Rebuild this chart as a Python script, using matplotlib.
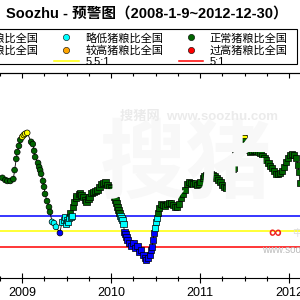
import matplotlib
matplotlib.use('Agg')
import matplotlib.pyplot as plt
from matplotlib.lines import Line2D
from matplotlib.patches import Rectangle
import numpy as np

plt.rcParams['font.family'] = ['Liberation Sans', 'Noto Sans CJK SC', 'DejaVu Sans']

# weekly values (circles), decimal year / pig-grain ratio
week_x = [2008.777, 2008.810, 2008.833, 2008.866, 2008.900, 2008.914, 2008.933, 2008.944,
          2008.963, 2008.978, 2009.000, 2009.017, 2009.033, 2009.056, 2009.100, 2009.119,
          2009.134, 2009.145, 2009.178, 2009.190, 2009.201, 2009.212, 2009.234, 2009.245,
          2009.256, 2009.279, 2009.301, 2009.312, 2009.335, 2009.357, 2009.379, 2009.424]
week_y = [7.22, 7.15, 7.12, 7.12, 7.18, 7.47, 7.83, 8.05,
          8.25, 8.44, 8.54, 8.60, 8.64, 8.67, 8.38, 8.31,
          8.09, 7.89, 7.70, 7.57, 7.47, 7.35, 7.12, 6.93,
          6.70, 6.47, 6.28, 6.12, 5.80, 5.76, 5.64, 5.44]

# daily values (squares)
day_x = [2009.446, 2009.468, 2009.480, 2009.491, 2009.502, 2009.513, 2009.524, 2009.535,
         2009.546, 2009.558, 2009.569, 2009.580, 2009.602, 2009.613, 2009.636, 2009.647,
         2009.669, 2009.691, 2009.714, 2009.725, 2009.747, 2009.758, 2009.781, 2009.803,
         2009.825, 2009.848, 2009.870, 2009.892, 2009.914, 2009.937, 2009.959, 2009.981,
         2010.004, 2010.015, 2010.026, 2010.037, 2010.048, 2010.059, 2010.071, 2010.082,
         2010.093, 2010.104, 2010.115, 2010.126, 2010.138, 2010.149, 2010.160, 2010.171,
         2010.182, 2010.204, 2010.227, 2010.249, 2010.271, 2010.294, 2010.316, 2010.338,
         2010.361, 2010.383, 2010.394, 2010.416, 2010.439, 2010.450, 2010.461, 2010.472,
         2010.483, 2010.494, 2010.506, 2010.517, 2010.528, 2010.539, 2010.561, 2010.584,
         2010.606, 2010.628, 2010.651, 2010.673, 2010.695, 2010.717, 2010.740, 2010.762,
         2010.784, 2010.807, 2010.829, 2010.851, 2010.874, 2010.896, 2010.918, 2010.940,
         2010.963, 2010.985, 2011.007, 2011.030, 2011.052, 2011.074, 2011.097, 2011.119,
         2011.141, 2011.164, 2011.186, 2011.208, 2011.230, 2011.253, 2011.275, 2011.297,
         2011.320, 2011.342, 2011.364, 2011.375, 2011.386, 2011.398, 2011.409, 2011.420,
         2011.431, 2011.442, 2011.453, 2011.465, 2011.476, 2011.487, 2011.498, 2011.509,
         2011.520, 2011.543, 2011.565, 2011.587, 2011.610, 2011.632, 2011.654, 2011.676,
         2011.699, 2011.721, 2011.743, 2011.766, 2011.788, 2011.810, 2011.833, 2011.855,
         2011.877, 2011.900, 2011.922, 2011.944, 2011.966, 2011.989, 2012.011, 2012.033,
         2012.056, 2012.078, 2012.100, 2012.111, 2012.123]
day_y = [5.80, 5.86, 5.96, 5.73, 5.86, 5.80, 5.93, 6.09,
         5.96, 5.99, 6.28, 6.44, 6.57, 6.64, 6.70, 6.73,
         6.67, 6.60, 6.51, 6.44, 6.54, 6.60, 6.73, 6.76,
         6.80, 6.83, 6.93, 7.02, 7.05, 7.09, 6.99, 6.93,
         6.89, 6.83, 6.76, 6.60, 6.51, 6.41, 6.28, 6.18,
         6.09, 5.99, 5.93, 5.86, 5.73, 5.48, 5.41, 5.31,
         5.22, 5.12, 5.02, 5.12, 4.96, 5.02, 4.83, 4.89,
         4.73, 4.64, 4.57, 4.64, 4.73, 4.89, 4.99, 5.22,
         5.44, 5.60, 5.80, 5.93, 6.09, 6.25, 6.38, 6.35,
         6.31, 6.38, 6.41, 6.41, 6.35, 6.28, 6.28, 6.38,
         6.57, 6.70, 6.83, 7.02, 7.09, 7.05, 7.02, 7.05,
         6.99, 7.02, 7.09, 7.22, 7.28, 7.31, 7.35, 7.35,
         7.31, 7.28, 7.22, 7.15, 7.09, 6.99, 6.93, 6.89,
         6.96, 7.09, 7.31, 7.54, 7.80, 7.96, 8.12, 8.28,
         8.44, 8.57, 8.67, 8.73, 8.60, 8.51, 8.41, 8.31,
         8.22, 8.12, 8.05, 8.09, 8.12, 8.09, 8.05, 8.02,
         7.93, 7.86, 7.80, 7.70, 7.60, 7.54, 7.44, 7.35,
         7.35, 7.38, 7.44, 7.57, 7.73, 7.86, 7.96, 7.99,
         7.96, 7.86, 7.64, 7.41, 7.05]

ratio_lines = [6.0, 5.5, 5.0]
ratio_colors = ['#0000ff', '#ffff00', '#ff0000']
ratio_labels = ['6:1', '5.5:1', '5:1']

level_names = ['过低猪粮比全国', '偏高猪粮比全国', '略低猪粮比全国',
               '较高猪粮比全国', '正常猪粮比全国', '过高猪粮比全国']
level_colors = ['#0000ff', '#ffff00', '#00ffff', '#ffa500', '#006400', '#ff0000']
years = [2009, 2010, 2011, 2012]


def point_color(v):
  if v < 5.5:
    return '#0000ff'
  if v < 6.0:
    return '#00ffff'
  if v < 8.5:
    return '#006400'
  return '#ffff00'


fig = plt.figure(figsize=(3, 3), dpi=100)
ax = fig.add_axes([0.0, 0.0743, 1.0, 0.6824])

# faint watermarks
fig.text(0.62, 0.44, '搜猪', fontsize=62, color='#f8f8f8', ha='center', va='center',
         fontweight='bold', zorder=0)
fig.text(0.40, 0.61, '搜猪网  www.soozhu.com', fontsize=9.5, color='#ebebeb',
         ha='left', va='center', fontweight='bold')
fig.text(0.915, 0.222, '∞', fontsize=13, color='#ee2222', ha='center', va='center',
         fontweight='bold')
fig.text(0.975, 0.222, '中', fontsize=7, color='#dddddd', ha='left', va='center')
fig.text(0.873, 0.168, 'www.soozhu.com', fontsize=7, color='#bbbbbb', ha='left', va='center')

for v, c in zip(ratio_lines, ratio_colors):
  ax.axhline(v, color=c, lw=1.1, zorder=2)

ax.plot(week_x + day_x, week_y + day_y, color='black', lw=0.6, zorder=3)
ax.scatter(week_x, week_y, c=[point_color(v) for v in week_y], marker='o', s=17,
           edgecolors='black', linewidths=0.5, zorder=4)
ax.scatter(day_x, day_y, c=[point_color(v) for v in day_y], marker='s', s=22,
           edgecolors='black', linewidths=0.5, zorder=4)

ax.set_xlim(2008.777, 2012.123)
ax.set_ylim(4.0, 10.6)
ax.patch.set_alpha(0)

for s in ['left', 'right']:
  ax.spines[s].set_visible(False)
ax.spines['bottom'].set_linewidth(0.8)
ax.spines['top'].set_linewidth(0.8)
ax.set_yticks([])

ax.set_xticks(years)
ax.set_xticklabels([str(y) for y in years], fontsize=9)
ax.set_xticks(np.arange(2008.75, 2012.2, 0.25), minor=True)
ax.tick_params(axis='x', which='major', direction='inout', length=6.5, width=0.8, pad=3.5)
ax.tick_params(axis='x', which='minor', direction='inout', length=3.6, width=0.8)

# top ticks point inward only
top = ax.secondary_xaxis('top')
top.set_xticks(years)
top.set_xticklabels([])
top.set_xticks(np.arange(2008.75, 2012.2, 0.25), minor=True)
top.tick_params(which='major', direction='in', length=3.6, width=0.8)
top.tick_params(which='minor', direction='in', length=2.2, width=0.8)
top.spines['top'].set_linewidth(0.8)

fig.text(0.488, 0.955, 'Soozhu - 预警图（2008-1-9~2012-12-30）', fontsize=10.5,
         fontweight='bold', ha='center', va='center')

handles = []
labels = []
for i in range(3):
  for j in range(2):
    k = i * 2 + j
    handles.append(Line2D([], [], ls='none', marker='o', markersize=4.5,
                          markerfacecolor=level_colors[k], markeredgecolor='black',
                          markeredgewidth=0.4))
    labels.append(level_names[k])
  handles.append(Line2D([], [], color=ratio_colors[i], lw=1.1))
  labels.append(ratio_labels[i])

fig.legend(handles, labels, ncol=3, loc='upper right', bbox_to_anchor=(0.97, 0.903),
           fontsize=8, frameon=False, handlelength=2.2, handletextpad=0.6,
           columnspacing=1.4, labelspacing=0.15, borderpad=0.3, borderaxespad=0)
# legend box, its left part is outside the picture
fig.patches.append(Rectangle((-0.5, 0.7867), 1.49, 0.1166, transform=fig.transFigure,
                             fill=False, edgecolor='black', lw=0.8))

fig.savefig('out.png', dpi=100)
